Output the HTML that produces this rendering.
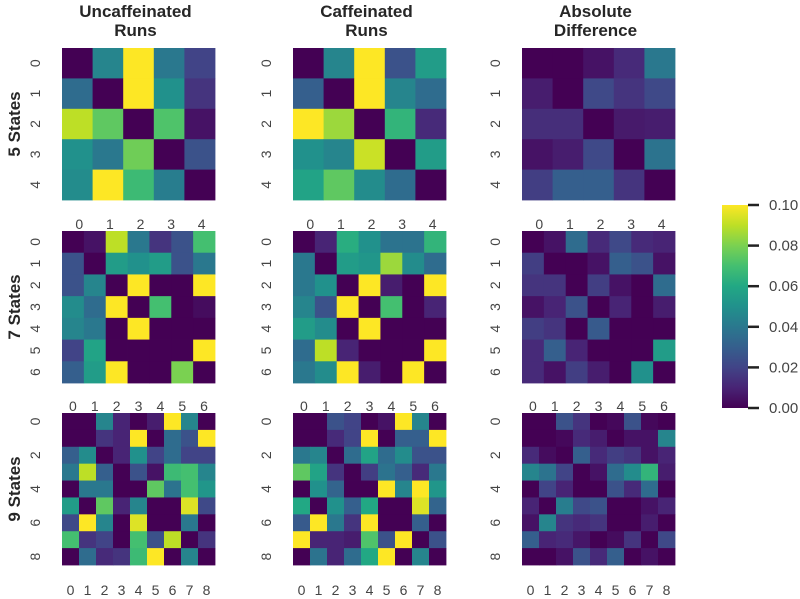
<!DOCTYPE html>
<html><head><meta charset="utf-8"><style>
html,body{margin:0;padding:0;background:#fff;width:800px;height:599px;overflow:hidden}
svg text{font-family:"Liberation Sans",Arial,sans-serif}
</style></head><body>
<svg id="fig" width="800" height="599" viewBox="0 0 800 599" xmlns="http://www.w3.org/2000/svg">
<defs><linearGradient id="vgrad" x1="0" y1="1" x2="0" y2="0"></linearGradient></defs>
</svg>
<script>
const colTitles=[["Uncaffeinated","Runs"],["Caffeinated","Runs"],["Absolute","Difference"]];
const rowTitles=["5 States","7 States","9 States"];
const cbTicks=[0,0.02,0.04,0.06,0.08,0.10];
const cbLabels=["0.00","0.02","0.04","0.06","0.08","0.10"];
const u5=[[0,0.045,0.1,0.04,0.02],[0.035,0,0.1,0.05,0.015],[0.09,0.075,0,0.072,0.005],[0.05,0.04,0.078,0,0.025],[0.048,0.1,0.068,0.042,0]];
const c5=[[0,0.045,0.1,0.025,0.055],[0.03,0,0.1,0.045,0.035],[0.1,0.085,0,0.065,0.012],[0.05,0.045,0.092,0,0.055],[0.058,0.075,0.048,0.035,0]];
const d5=[[0,0,0.005,0.012,0.04],[0.008,0,0.022,0.015,0.022],[0.013,0.013,0,0.007,0.008],[0.005,0.008,0.022,0,0.038],[0.018,0.03,0.03,0.015,0]];
const u7=[[0,0.005,0.09,0.04,0.015,0.025,0.07],[0.025,0,0.055,0.05,0.055,0.025,0.04],[0.025,0.045,0,0.1,0,0,0.1],[0.048,0.035,0.1,0,0.07,0,0.003],[0.045,0.04,0,0.1,0,0,0],[0.02,0.058,0,0,0,0,0.1],[0.03,0.055,0.1,0,0,0.08,0]];
const c7=[[0,0.01,0.062,0.05,0.038,0.038,0.065],[0.04,0,0.055,0.052,0.085,0.048,0.035],[0.04,0.05,0,0.1,0.008,0,0.1],[0.045,0.025,0.1,0,0.07,0,0.01],[0.055,0.048,0,0.1,0,0,0],[0.035,0.09,0.01,0,0,0,0.1],[0.04,0.048,0.1,0.008,0,0.1,0]];
const d7=[[0,0.005,0.035,0.012,0.022,0.012,0.01],[0.018,0,0,0.005,0.03,0.025,0.005],[0.015,0.015,0,0.018,0.005,0,0.035],[0.005,0.01,0.025,0,0.01,0,0.008],[0.018,0.015,0,0.028,0,0,0],[0.012,0.03,0.01,0,0,0,0.055],[0.012,0.005,0.018,0.008,0,0.05,0]];
const u9=[[0,0,0.045,0.01,0,0.008,0.1,0.045,0],[0,0,0.015,0.01,0.1,0,0.035,0.025,0.1],[0.03,0.048,0,0.01,0.05,0.02,0.035,0.02,0.02],[0.04,0.09,0.03,0,0.025,0.005,0.068,0.07,0.045],[0,0.04,0.04,0,0,0.075,0.038,0.07,0.052],[0.055,0,0.075,0.01,0.045,0,0,0.095,0.022],[0.022,0.1,0.045,0,0.095,0,0,0.04,0],[0.07,0.015,0.02,0,0.07,0.025,0.09,0,0.015],[0,0.035,0.012,0.015,0.068,0.1,0,0.045,0]];
const c9=[[0,0,0.025,0.02,0,0.005,0.1,0.045,0],[0,0,0.012,0.02,0.1,0,0.03,0.03,0.1],[0.04,0.045,0,0.035,0.058,0.035,0.048,0.025,0.025],[0.075,0.058,0.015,0,0.018,0.038,0.03,0.012,0.04],[0,0.05,0.032,0,0,0.1,0.045,0.1,0.052],[0.06,0,0.05,0.03,0.06,0,0,0.095,0.032],[0.028,0.1,0.04,0.015,0.1,0,0,0.03,0],[0.1,0.01,0.01,0.008,0.072,0.025,0.1,0,0.025],[0,0.038,0.01,0.035,0.06,0.1,0,0.045,0]];
const d9=[[0,0,0.025,0.015,0,0.002,0.025,0.002,0],[0,0,0.002,0.012,0.008,0,0.005,0.005,0.045],[0.012,0.003,0,0.03,0.012,0.018,0.015,0.005,0.01],[0.045,0.038,0.02,0,0.005,0.035,0.048,0.065,0.008],[0,0.02,0.01,0,0,0.025,0.012,0.035,0],[0.01,0,0.042,0.022,0.025,0,0,0.005,0.01],[0.005,0.045,0.015,0.012,0.015,0,0,0.008,0],[0.03,0.01,0.012,0.006,0,0.003,0.015,0,0.022],[0,0,0.005,0.025,0.012,0.03,0,0.005,0]];
const topLabels=[[],["0","1","2","3","4"],["0","1","2","3","4","5","6"]];
const bottomLabels=["0","1","2","3","4","5","6","7","8"];

const grids=[[u5,c5,d5],[u7,c7,d7],[u9,c9,d9]];
const NS="http://www.w3.org/2000/svg";
const svg=document.getElementById('fig');
const VIR=[[68,1,84],[72,36,117],[65,68,135],[53,95,141],[42,120,142],[33,145,140],[34,168,132],[68,191,112],[122,209,81],[189,223,38],[253,231,37]];
function vir(t){t=Math.max(0,Math.min(1,t));const p=t*(VIR.length-1);const i=Math.min(VIR.length-2,Math.floor(p));const f=p-i;const a=VIR[i],b=VIR[i+1];return `rgb(${Math.round(a[0]+(b[0]-a[0])*f)},${Math.round(a[1]+(b[1]-a[1])*f)},${Math.round(a[2]+(b[2]-a[2])*f)})`;}
const vmax=0.1;
function el(tag,attrs,txt){const e=document.createElementNS(NS,tag);for(const k in attrs)e.setAttribute(k,attrs[k]);if(txt!==undefined)e.textContent=txt;svg.appendChild(e);return e;}
const X0=[62,293,522],Y0=[48,231,413],W=153,H=152;
const colNames=["uncaffeinated","caffeinated","difference"];
// column titles
colTitles.forEach((t,c)=>{t.forEach((line,i)=>{const e=el('text',{x:X0[c]+W/2-3,y:17+i*19,'text-anchor':'middle','font-size':'17','font-weight':'bold',fill:'#262626'},line);

});});
// row titles
rowTitles.forEach((t,r)=>{const cy=Y0[r]+H/2;const e=el('text',{x:0,y:0,transform:`translate(20,${cy}) rotate(-90)`,'text-anchor':'middle','font-size':'17','font-weight':'bold',fill:'#262626'},t);

});
grids.forEach((row,r)=>{row.forEach((m,c)=>{
 const n=m.length,cw=W/n,ch=H/n;
 m.forEach((vals,i)=>vals.forEach((v,j)=>{
  const rc=el('rect',{x:X0[c]+j*cw,y:Y0[r]+i*ch,width:cw+0.4,height:ch+0.4,fill:vir(v/vmax)});
  
  
 }));
 // y tick labels
 for(let i=0;i<n;i++){ if(n===9&&i%2===1)continue;
  const cy=Y0[r]+(i+0.5)*ch;const tx=X0[c]-22;
  const t=el('text',{x:0,y:0,transform:`translate(${tx},${cy}) rotate(-90)`,'text-anchor':'middle','font-size':'14',fill:'#444'},String(i));
  
  }
 // top labels
 const tl=topLabels[r];
 tl.forEach((s,k)=>{const slot=W/tl.length;const t=el('text',{x:X0[c]+slot*(k+0.5)+(r===1?2:0),y:Y0[r]-2,'text-anchor':'middle','font-size':'14',fill:'#444'},s);
  
  });
 if(r===2){bottomLabels.forEach((s,k)=>{const t=el('text',{x:X0[c]+cw*(k+0.5),y:595,'text-anchor':'middle','font-size':'14',fill:'#444'},s);
  
  });}
});});
// colorbar
const g=document.getElementById('vgrad');
VIR.forEach((cc,i)=>{const s=document.createElementNS(NS,'stop');s.setAttribute('offset',(i/(VIR.length-1)));s.setAttribute('stop-color',`rgb(${cc})`);g.appendChild(s);});
const CBX=722,CBY=205,CBW=26,CBH=203;
const cb=el('rect',{x:CBX,y:CBY,width:CBW,height:CBH,fill:'url(#vgrad)'});


cbTicks.forEach((v,k)=>{const y=CBY+CBH-(v/vmax)*CBH;
 const tk=el('line',{x1:CBX+CBW,x2:CBX+CBW+11,y1:y,y2:y,stroke:'#222','stroke-width':'2.5'});
 
 
 const t=el('text',{x:769,y:y+5,'font-size':'15',fill:'#444'},cbLabels[k]);
 
 });
</script>
</body></html>
